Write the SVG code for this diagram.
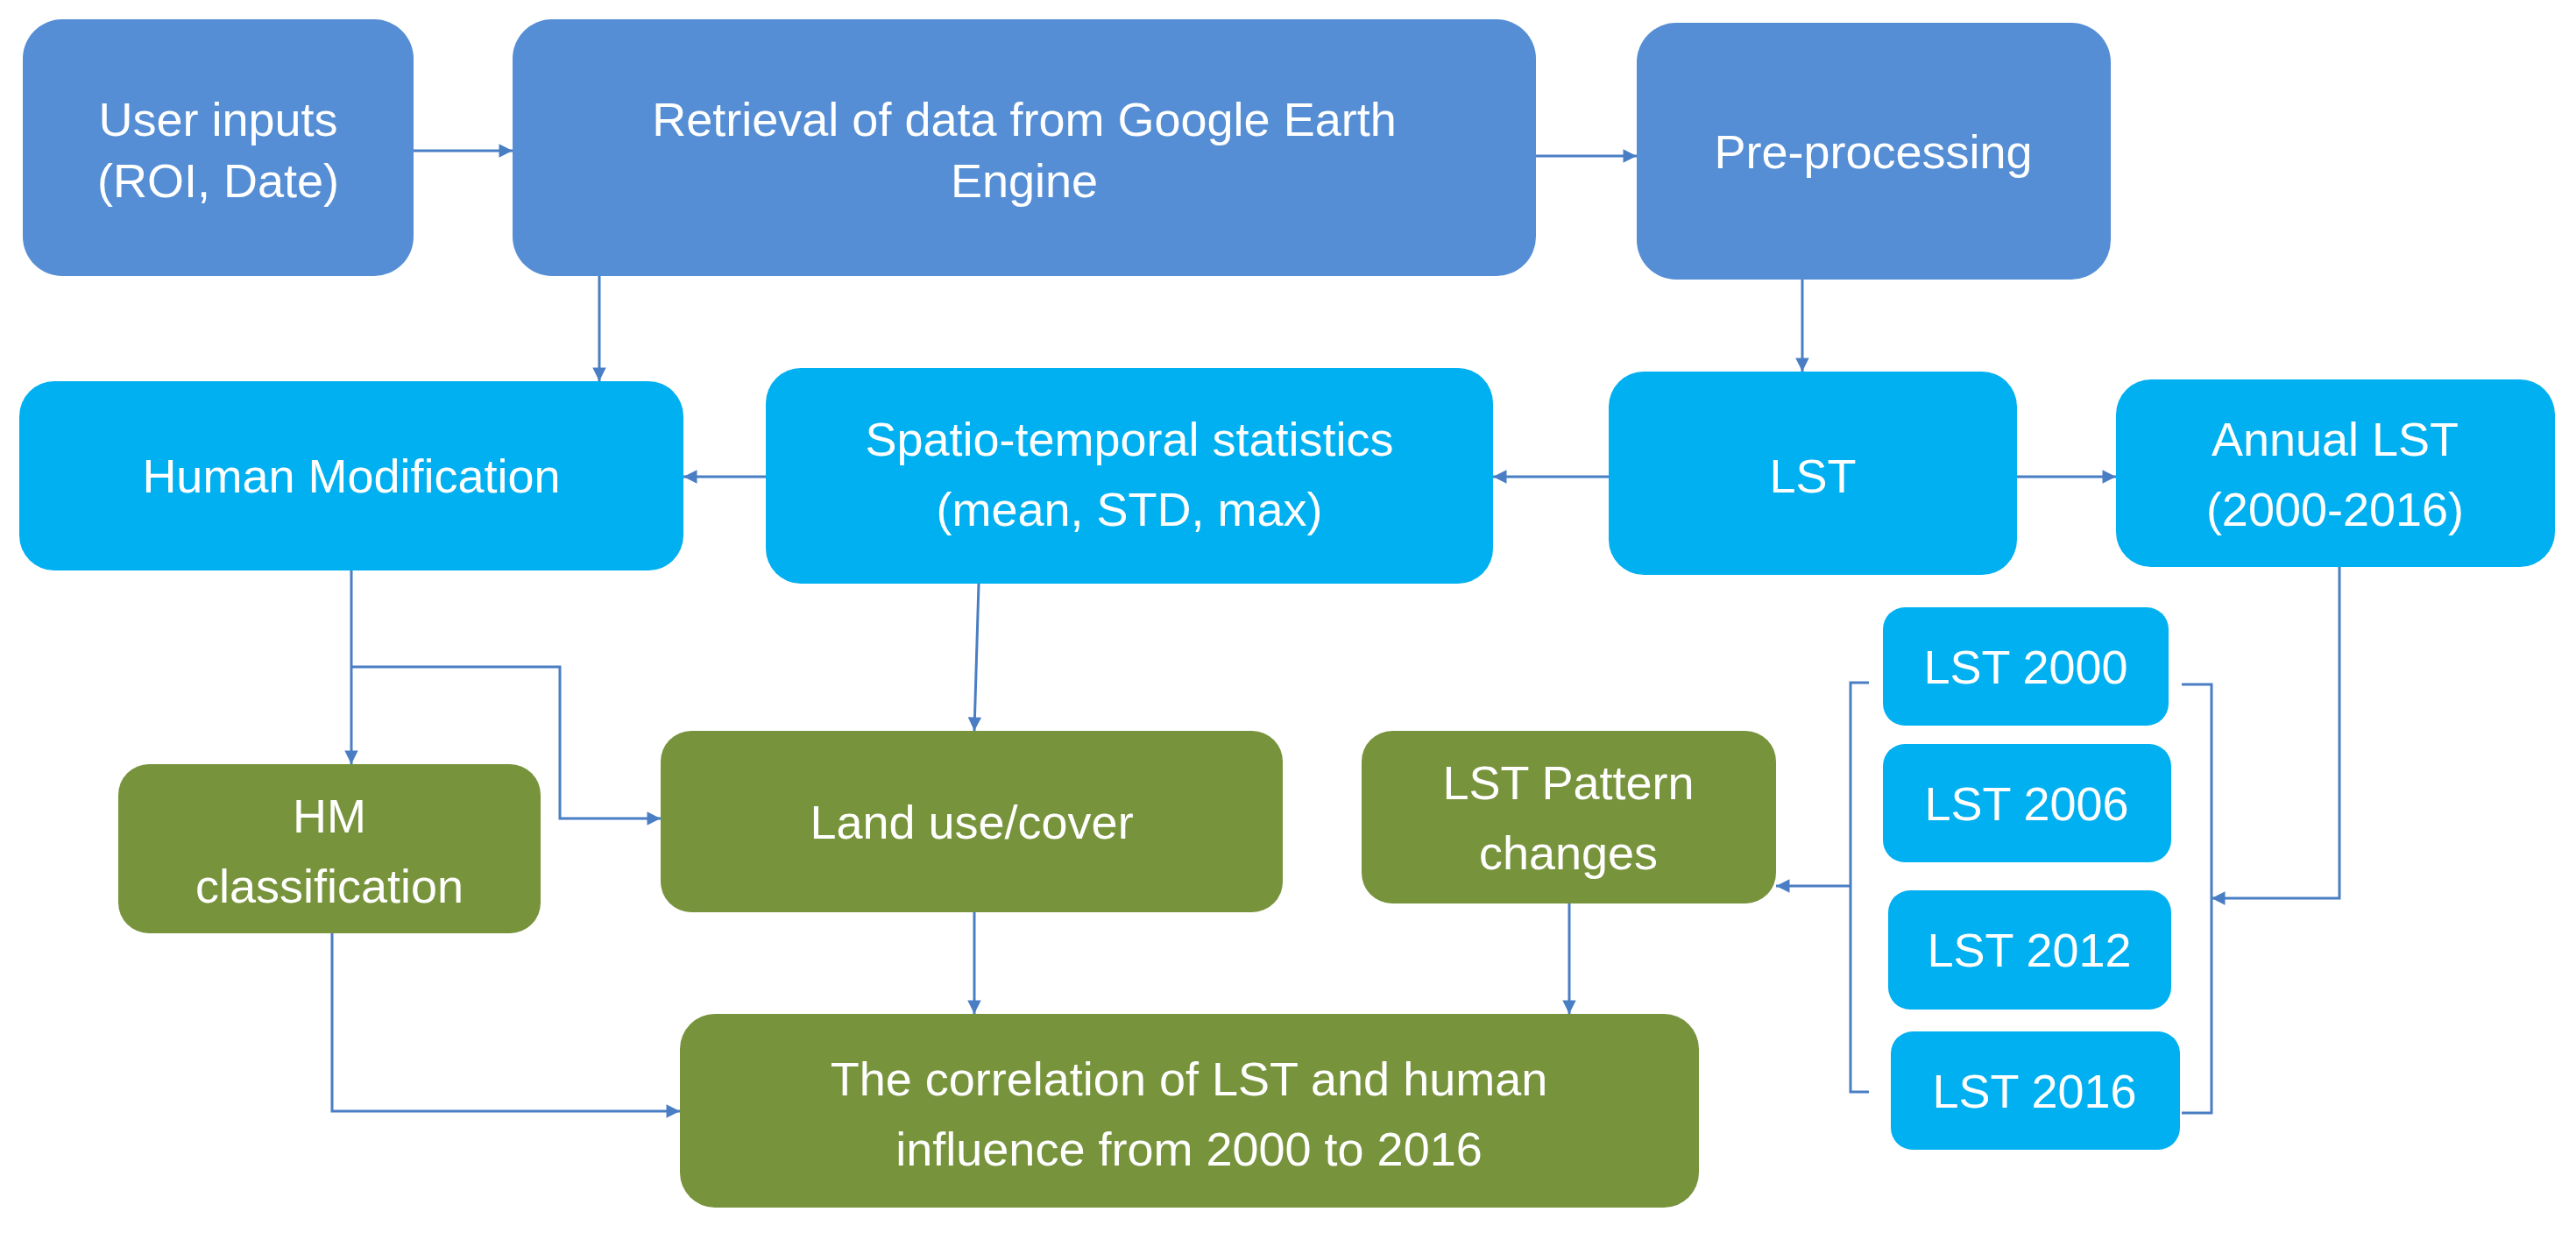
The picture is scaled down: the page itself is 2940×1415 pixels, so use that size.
<svg xmlns="http://www.w3.org/2000/svg" width="2940" height="1415" viewBox="0 0 2940 1415">
<style>
.d{fill:#558ED5}.l{fill:#00B0F0}.g{fill:#77933C}
text{font-family:"Liberation Sans",Arial,sans-serif;font-size:54px;fill:#fff;text-anchor:middle}
.c path{fill:none;stroke:#4A7EC4;stroke-width:3}
</style>
<defs><marker id="a" viewBox="0 0 10 10" refX="10" refY="5" markerWidth="7" markerHeight="7" orient="auto" markerUnits="userSpaceOnUse" style="overflow:visible"><path d="M0,0L10,5L0,10z" fill="#4A7EC4" transform="scale(2.2) translate(-5.5,-2.7)"/></marker></defs>
<rect width="2940" height="1415" fill="#fff"/>
<g id="n1"><rect class="d" x="26" y="22" width="446" height="293" rx="45"/><text x="249" y="155">User inputs</text><text x="249" y="225">(ROI, Date)</text></g>
<g id="n2"><rect class="d" x="585" y="22" width="1168" height="293" rx="45"/><text x="1169" y="155">Retrieval of data from Google Earth</text><text x="1169" y="225">Engine</text></g>
<g id="n3"><rect class="d" x="1868" y="26" width="541" height="293" rx="45"/><text x="2138" y="192">Pre-processing</text></g>
<g id="n4"><rect class="l" x="22" y="435" width="758" height="216" rx="40"/><text x="401" y="562">Human Modification</text></g>
<g id="n5"><rect class="l" x="874" y="420" width="830" height="246" rx="40"/><text x="1289" y="520">Spatio-temporal statistics</text><text x="1289" y="600">(mean, STD, max)</text></g>
<g id="n6"><rect class="l" x="1836" y="424" width="466" height="232" rx="40"/><text x="2069" y="562">LST</text></g>
<g id="n7"><rect class="l" x="2415" y="433" width="501" height="214" rx="40"/><text x="2665" y="520">Annual LST</text><text x="2665" y="600">(2000-2016)</text></g>
<g id="n8"><rect class="l" x="2149" y="693" width="326" height="135" rx="25"/><text x="2312" y="780">LST 2000</text></g>
<g id="n9"><rect class="l" x="2149" y="849" width="329" height="135" rx="25"/><text x="2313" y="936">LST 2006</text></g>
<g id="n10"><rect class="l" x="2155" y="1016" width="323" height="136" rx="25"/><text x="2316" y="1103">LST 2012</text></g>
<g id="n11"><rect class="l" x="2158" y="1177" width="330" height="135" rx="25"/><text x="2322" y="1264">LST 2016</text></g>
<g id="n12"><rect class="g" x="135" y="872" width="482" height="193" rx="35"/><text x="376" y="950">HM</text><text x="376" y="1030">classification</text></g>
<g id="n13"><rect class="g" x="754" y="834" width="710" height="207" rx="35"/><text x="1109" y="957">Land use/cover</text></g>
<g id="n14"><rect class="g" x="1554" y="834" width="473" height="197" rx="35"/><text x="1790" y="912">LST Pattern</text><text x="1790" y="992">changes</text></g>
<g id="n15"><rect class="g" x="776" y="1157" width="1163" height="221" rx="40"/><text x="1357" y="1250">The correlation of LST and human</text><text x="1357" y="1330">influence from 2000 to 2016</text></g>
<g class="c" id="connectors">
<path d="M472,172H585" marker-end="url(#a)"/>
<path d="M1753,178H1868" marker-end="url(#a)"/>
<path d="M684,315V435" marker-end="url(#a)"/>
<path d="M2057,319V424" marker-end="url(#a)"/>
<path d="M1836,544H1704" marker-end="url(#a)"/>
<path d="M874,544H780" marker-end="url(#a)"/>
<path d="M2302,544H2415" marker-end="url(#a)"/>
<path d="M401,651V872" marker-end="url(#a)"/>
<path d="M401,761H639V934H754" marker-end="url(#a)"/>
<path d="M1117,666L1112,834" marker-end="url(#a)"/>
<path d="M1112,1041V1157" marker-end="url(#a)"/>
<path d="M1791,1031V1157" marker-end="url(#a)"/>
<path d="M379,1065V1268H776" marker-end="url(#a)"/>
<path d="M2133,779H2112V1246H2133"/>
<path d="M2112,1011H2027" marker-end="url(#a)"/>
<path d="M2490,781H2524V1270H2490"/>
<path d="M2670,647V1025H2524" marker-end="url(#a)"/>
</g>
</svg>
